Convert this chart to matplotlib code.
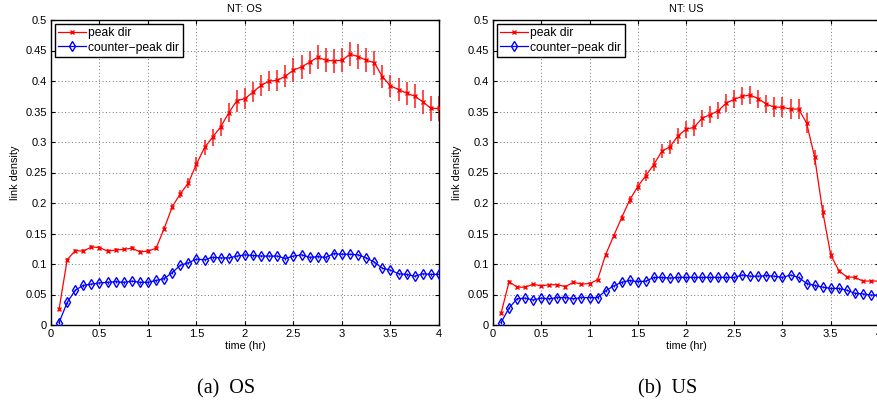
import numpy as np
import matplotlib
matplotlib.use("Agg")
import matplotlib.pyplot as plt

# ---------------- data ----------------
time_hr = [i / 12 for i in range(1, 49)]  # 5-minute steps, 0.083 .. 4.0

os_peak = [0.026, 0.107, 0.122, 0.121, 0.128, 0.127, 0.121, 0.123, 0.124, 0.126,
           0.120, 0.121, 0.126, 0.158, 0.194, 0.215, 0.233, 0.264, 0.291, 0.308,
           0.325, 0.348, 0.368, 0.371, 0.382, 0.393, 0.400, 0.401, 0.408, 0.418,
           0.423, 0.431, 0.439, 0.434, 0.433, 0.434, 0.444, 0.440, 0.434, 0.430,
           0.407, 0.392, 0.386, 0.380, 0.375, 0.366, 0.355, 0.355]
os_peak_err = [0.002, 0.003, 0.003, 0.003, 0.003, 0.003, 0.003, 0.003, 0.003, 0.003,
               0.003, 0.003, 0.003, 0.004, 0.005, 0.006, 0.008, 0.012, 0.013, 0.014,
               0.015, 0.016, 0.018, 0.017, 0.017, 0.017, 0.017, 0.017, 0.018, 0.019,
               0.019, 0.019, 0.020, 0.020, 0.020, 0.020, 0.020, 0.020, 0.020, 0.020,
               0.019, 0.018, 0.019, 0.019, 0.020, 0.020, 0.020, 0.020]
os_counter = [0.004, 0.037, 0.057, 0.065, 0.067, 0.069, 0.070, 0.071, 0.070, 0.072,
              0.070, 0.070, 0.073, 0.076, 0.086, 0.098, 0.102, 0.108, 0.107, 0.111,
              0.110, 0.110, 0.113, 0.115, 0.114, 0.113, 0.113, 0.113, 0.109, 0.113,
              0.115, 0.111, 0.112, 0.111, 0.117, 0.116, 0.116, 0.115, 0.110, 0.103,
              0.093, 0.090, 0.084, 0.083, 0.080, 0.084, 0.083, 0.083]
os_counter_err = [0.002] * 48

us_peak = [0.019, 0.071, 0.062, 0.062, 0.067, 0.064, 0.066, 0.066, 0.063, 0.070,
           0.067, 0.068, 0.074, 0.115, 0.146, 0.176, 0.205, 0.227, 0.245, 0.263,
           0.285, 0.292, 0.310, 0.321, 0.324, 0.339, 0.345, 0.351, 0.364, 0.370,
           0.375, 0.377, 0.371, 0.362, 0.357, 0.357, 0.354, 0.354, 0.331, 0.275,
           0.186, 0.115, 0.089, 0.079, 0.078, 0.072, 0.072, 0.072]
us_peak_err = [0.002, 0.002, 0.002, 0.002, 0.002, 0.002, 0.002, 0.002, 0.002, 0.002,
               0.002, 0.002, 0.002, 0.003, 0.004, 0.005, 0.006, 0.008, 0.009, 0.010,
               0.011, 0.012, 0.013, 0.014, 0.014, 0.014, 0.014, 0.014, 0.015, 0.015,
               0.015, 0.015, 0.015, 0.015, 0.016, 0.016, 0.016, 0.016, 0.017, 0.012,
               0.010, 0.006, 0.003, 0.002, 0.002, 0.002, 0.002, 0.002]
us_counter = [0.004, 0.028, 0.043, 0.044, 0.041, 0.044, 0.043, 0.045, 0.045, 0.043,
              0.045, 0.045, 0.045, 0.056, 0.064, 0.070, 0.073, 0.071, 0.072, 0.078,
              0.078, 0.077, 0.078, 0.078, 0.078, 0.078, 0.078, 0.078, 0.078, 0.078,
              0.082, 0.080, 0.080, 0.081, 0.080, 0.078, 0.082, 0.078, 0.068, 0.065,
              0.062, 0.060, 0.060, 0.057, 0.052, 0.051, 0.049, 0.049]
us_counter_err = [0.002] * 48

titles = ["NT: OS", "NT: US"]
captions = ["(a)  OS", "(b)  US"]
series_labels = ["peak dir", "counter\u2212peak dir"]
x_ticks = [0, 0.5, 1, 1.5, 2, 2.5, 3, 3.5, 4]
x_tick_labels = ["0", "0.5", "1", "1.5", "2", "2.5", "3", "3.5", "4"]
y_ticks = [0, 0.05, 0.1, 0.15, 0.2, 0.25, 0.3, 0.35, 0.4, 0.45, 0.5]
y_tick_labels = ["0", "0.05", "0.1", "0.15", "0.2", "0.25", "0.3", "0.35", "0.4", "0.45", "0.5"]

# ---------------- figure ----------------
plt.rcParams['font.family'] = ['Liberation Sans', 'DejaVu Sans']
W, H = 878, 404
fig = plt.figure(figsize=(W / 100, H / 100), dpi=100)

def fx(px):
    return px / W

def fy(py):
    return 1 - py / H

axes_px = [(51, 20, 439, 325), (493, 20, 879, 325)]
data_sets = [(os_peak, os_peak_err, os_counter, os_counter_err),
             (us_peak, us_peak_err, us_counter, us_counter_err)]
caption_x = [226, 668]

for k in range(2):
    x0, y0, x1, y1 = axes_px[k]
    ax = fig.add_axes([fx(x0), fy(y1), (x1 - x0) / W, (y1 - y0) / H])
    pk, pke, cp, cpe = data_sets[k]

    ax.errorbar(time_hr, pk, yerr=pke, fmt='none', ecolor=(1, 0.1, 0.1), elinewidth=1.3,
                alpha=0.85, capsize=0, zorder=2)
    ax.errorbar(time_hr, cp, yerr=cpe, fmt='none', ecolor='#0000ff', elinewidth=1.0,
                capsize=0, zorder=2)
    ax.plot(time_hr, pk, color='#ff0000', lw=0.9, marker='x', ms=3.2, mew=1.0,
            label=series_labels[0], zorder=3)
    ax.plot(time_hr, cp, color='#0000ff', lw=0.9, marker='d', ms=4.6, mew=1.0,
            mfc='none', label=series_labels[1], zorder=3)

    ax.set_xlim(0, 4)
    ax.set_ylim(0, 0.5)
    ax.set_xticks(x_ticks)
    ax.set_xticklabels(x_tick_labels)
    ax.set_yticks(y_ticks)
    ax.set_yticklabels(y_tick_labels)
    ax.tick_params(direction='in', length=3, width=0.8, top=True, right=True,
                   labelsize=8, pad=3, colors='black')
    ax.grid(True, linestyle=(0, (1, 2.5)), color='0.45', linewidth=0.7)
    for s in ax.spines.values():
        s.set_linewidth(1.0)
        s.set_color('black')

    ax.set_title(titles[k], fontsize=7.8, pad=6)
    ax.set_xlabel("time (hr)", fontsize=7.8, labelpad=1)
    ax.set_ylabel("link density", fontsize=7.8, labelpad=4)

    leg = ax.legend(loc='upper left', bbox_to_anchor=(0.0, 1.0), fontsize=8.7,
                    fancybox=False, framealpha=1, edgecolor='black',
                    handlelength=2.3, handletextpad=0.2, borderpad=0.3,
                    labelspacing=0.2, borderaxespad=0.3)
    leg.get_frame().set_linewidth(1.0)

    fig.text(fx(caption_x[k]), fy(393), captions[k], ha='center', va='baseline',
             fontsize=14.5, family=['Liberation Serif', 'DejaVu Serif'])

fig.savefig("out.png", dpi=100)
